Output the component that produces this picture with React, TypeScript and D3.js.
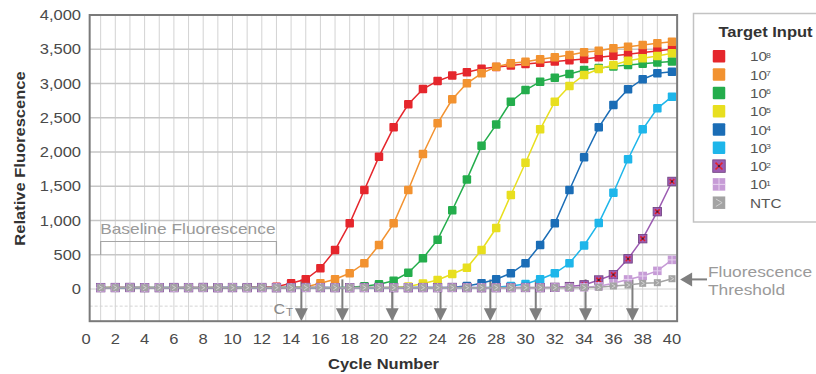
import React from 'react';
import * as d3 from 'd3';

// Amplification curves: relative fluorescence per PCR cycle for each target input
const cycles = d3.range(1, 41);

const input1e8 = [20, 22, 18, 21, 19, 20, 22, 19, 21, 20, 22, 25, 32, 83, 142, 302, 569, 959, 1445, 1932, 2360, 2697, 2920, 3037, 3115, 3163, 3215, 3240, 3262, 3283, 3302, 3320, 3338, 3358, 3382, 3405, 3428, 3452, 3476, 3504];
const input1e7 = [20, 21, 19, 22, 20, 18, 21, 20, 22, 19, 21, 20, 22, 24, 30, 83, 142, 229, 375, 642, 959, 1445, 1971, 2419, 2770, 3003, 3149, 3245, 3295, 3318, 3353, 3382, 3416, 3455, 3479, 3514, 3538, 3562, 3587, 3611];
const input1e6 = [21, 20, 22, 19, 21, 20, 18, 22, 20, 21, 19, 22, 20, 21, 19, 22, 20, 24, 40, 70, 121, 238, 448, 720, 1150, 1600, 2090, 2400, 2735, 2905, 3027, 3085, 3139, 3197, 3225, 3250, 3270, 3290, 3305, 3320];
const input1e5 = [19, 21, 20, 22, 18, 21, 20, 19, 22, 20, 21, 19, 20, 22, 21, 19, 20, 22, 21, 20, 24, 35, 80, 131, 219, 310, 569, 890, 1372, 1844, 2331, 2735, 2964, 3124, 3212, 3270, 3333, 3368, 3402, 3441];
const input1e4 = [20, 19, 21, 20, 22, 19, 21, 20, 18, 21, 22, 20, 19, 21, 20, 22, 19, 21, 20, 18, 21, 20, 22, 21, 24, 45, 83, 142, 229, 375, 642, 959, 1445, 1923, 2360, 2686, 2916, 3062, 3149, 3172];
const input1e3 = [21, 20, 19, 22, 20, 21, 19, 20, 22, 21, 20, 19, 21, 22, 20, 19, 21, 20, 22, 19, 20, 21, 22, 20, 19, 21, 20, 24, 45, 73, 142, 229, 375, 635, 963, 1406, 1895, 2331, 2638, 2808];
const input1e2 = [20, 21, 22, 19, 20, 21, 20, 22, 19, 21, 20, 21, 19, 20, 22, 21, 20, 19, 21, 22, 20, 19, 21, 20, 22, 21, 19, 20, 21, 22, 20, 24, 35, 60, 131, 209, 440, 735, 1129, 1570];
const input1e1 = [19, 20, 21, 20, 22, 19, 21, 20, 21, 22, 19, 20, 21, 20, 19, 22, 21, 20, 19, 21, 20, 22, 21, 19, 20, 21, 22, 20, 19, 21, 20, 22, 21, 25, 40, 85, 140, 190, 265, 425];
const inputNTC = [20, 20, 21, 19, 20, 21, 20, 19, 21, 20, 20, 21, 19, 20, 21, 20, 19, 20, 21, 20, 19, 21, 20, 20, 21, 19, 20, 21, 20, 19, 21, 20, 20, 21, 24, 44, 58, 83, 92, 150];

const seriesExponents = ['8', '7', '6', '5', '4', '3', '2', '1', ''];
const seriesNames = ['10', '10', '10', '10', '10', '10', '10', '10', 'NTC'];
const seriesColors = ['#e5262c', '#f29230', '#24ad4c', '#e8df1f', '#1b6db6', '#1eb6ea', '#9c5cb2', '#c69bd6', '#a3a3a3'];
const seriesValues = [input1e8, input1e7, input1e6, input1e5, input1e4, input1e3, input1e2, input1e1, inputNTC];

// Threshold-crossing cycles (Ct) for 10^8 .. 10^1
const ctValues = [14.7, 17.5, 20.9, 24.2, 27.6, 30.7, 34.1, 37.3];
const threshold = 140;

const yTicks = [0, 500, 1000, 1500, 2000, 2500, 3000, 3500, 4000];
const xTicks = d3.range(0, 41, 2);
const baselineRange = [1.0, 13.0];

const FONT = '"Liberation Sans", Arial, Helvetica, sans-serif';

type TProps = {
  x: number; y: number; anchor?: string; size?: number; weight?: string;
  fill?: string; sx?: number; rotate?: number; children: React.ReactNode;
};

function T({ x, y, anchor = 'start', size = 14, weight = 'normal', fill = '#555', sx = 1.18, rotate, children }: TProps) {
  const tr = `translate(${x},${y})${rotate ? ` rotate(${rotate})` : ''} scale(${sx},1)`;
  return (
    <text transform={tr} textAnchor={anchor as any} fontSize={size} fontWeight={weight} fill={fill} fontFamily={FONT}>
      {children}
    </text>
  );
}

function Marker({ cx, cy, idx, size }: { cx: number; cy: number; idx: number; size: number }) {
  const h = size / 2;
  const color = seriesColors[idx];
  if (idx === 6) {
    return (
      <g>
        <rect x={cx - h} y={cy - h} width={size} height={size} fill={color} stroke="#6d3f7e" strokeWidth={0.8} />
        <path d={`M${cx - h * 0.55},${cy - h * 0.55}L${cx + h * 0.55},${cy + h * 0.55}M${cx + h * 0.55},${cy - h * 0.55}L${cx - h * 0.55},${cy + h * 0.55}`} stroke="#e3202a" strokeWidth={1.6} />
        <rect x={cx - 1} y={cy - 1} width={2} height={2} fill="#3a1f3f" />
      </g>
    );
  }
  if (idx === 7) {
    return (
      <g>
        <rect x={cx - h} y={cy - h} width={size} height={size} fill={color} />
        <path d={`M${cx},${cy - h}V${cy + h}M${cx - h},${cy}H${cx + h}`} stroke="#e6d3ee" strokeWidth={1} />
      </g>
    );
  }
  if (idx === 8) {
    return (
      <g>
        <rect x={cx - h} y={cy - h} width={size} height={size} fill={color} />
        <path d={`M${cx - h * 0.5},${cy - h * 0.6}L${cx + h * 0.5},${cy}L${cx - h * 0.5},${cy + h * 0.6}`} stroke="#cfcfcf" strokeWidth={1} fill="none" />
      </g>
    );
  }
  return <rect x={cx - h} y={cy - h} width={size} height={size} rx={1} fill={color} />;
}

export default function App() {
  const x = d3.scaleLinear().domain([0, 40]).range([86, 672]);
  const y = d3.scaleLinear().domain([0, 4000]).range([289, 15]);

  const left = x(0.25);
  const right = x(40.35);
  const top = y(4000);
  const bottom = y(-470);

  const line = d3.line<number>().x((_, i) => x(cycles[i])).y((v) => y(v));

  const gridColor = '#c6c6c6';
  const arrowColor = '#7f7f7f';
  const annoColor = '#9a9a9a';

  const legendRowY = (i: number) => 56.3 + i * 18.3;

  return (
    <svg width={816} height={374} style={{ position: 'absolute', left: 0, top: 0, background: '#fff' }}>
      {/* grid */}
      {cycles.slice(0, 39).map((c) => (
        <line key={`v${c}`} x1={x(c)} x2={x(c)} y1={top} y2={bottom} stroke="#d3d3d3" strokeWidth={1} />
      ))}
      {yTicks.slice(1, 8).map((t) => (
        <line key={`h${t}`} x1={left} x2={right} y1={y(t)} y2={y(t)} stroke={gridColor} strokeWidth={1.4} />
      ))}
      <line x1={left} x2={right} y1={y(0)} y2={y(0)} stroke="#d0d0d0" strokeWidth={1} />
      <line x1={left} x2={right} y1={y(-250)} y2={y(-250)} stroke="#d4d4d4" strokeWidth={1} strokeDasharray="3,2" />

      {/* Ct arrows from the threshold down to the axis */}
      {ctValues.map((ct, i) => {
        const ax = x(ct);
        const y0 = y(threshold);
        return (
          <g key={`ct${i}`}>
            <line x1={ax} x2={ax} y1={y0} y2={bottom - 12} stroke={arrowColor} strokeWidth={2} />
            <path d={`M${ax - 6.5},${bottom - 13}L${ax + 6.5},${bottom - 13}L${ax},${bottom}Z`} fill={arrowColor} />
          </g>
        );
      })}

      {/* series */}
      {seriesValues.map((vals, si) => (
        <g key={`s${si}`}>
          <path d={line(vals) || ''} fill="none" stroke={seriesColors[si]} strokeWidth={1.5} />
          {vals.map((v, i) => (
            <Marker key={i} cx={x(cycles[i])} cy={y(v)} idx={si} size={si === 8 ? 7 : 8.5} />
          ))}
        </g>
      ))}

      {/* frame */}
      <rect x={left} y={top} width={right - left} height={bottom - top} fill="none" stroke="#7a7a7a" strokeWidth={2} />

      {/* y axis */}
      {yTicks.map((t) => (
        <T key={`yl${t}`} x={81} y={y(t) + 5} anchor="end" fill="#4a4a4a">{d3.format(',')(t)}</T>
      ))}
      <T x={24.5} y={158.5} rotate={-90} anchor="middle" weight="bold" fill="#333">Relative Fluorescence</T>

      {/* x axis */}
      {xTicks.map((t) => (
        <T key={`xl${t}`} x={x(t)} y={343.5} anchor="middle" fill="#4a4a4a">{t}</T>
      ))}
      <T x={383.5} y={369} anchor="middle" weight="bold" fill="#333">Cycle Number</T>

      {/* baseline annotation */}
      <T x={x(baselineRange[0]) - 0.5} y={234} fill={annoColor} sx={1.24}>Baseline Fluorescence</T>
      <path d={`M${x(baselineRange[0])},255V241.5H${x(baselineRange[1])}V255`} fill="none" stroke="#a5a5a5" strokeWidth={1.2} />

      {/* Ct label */}
      <T x={273.5} y={313.5} fill="#888" sx={1.15}>C</T>
      <T x={286} y={316} fill="#888" size={10} sx={1.15}>T</T>

      {/* threshold annotation */}
      <line x1={691} x2={707} y1={y(threshold)} y2={y(threshold)} stroke={arrowColor} strokeWidth={2} />
      <path d={`M${right + 3},${y(threshold)}L${right + 15},${y(threshold) - 7}L${right + 15},${y(threshold) + 7}Z`} fill={arrowColor} />
      <T x={708} y={276.5} fill={annoColor} sx={1.24}>Fluorescence</T>
      <T x={708} y={295} fill={annoColor} sx={1.24}>Threshold</T>

      {/* legend */}
      <rect x={693.5} y={13.5} width={140} height={208.5} fill="#fff" stroke="#c3c3c3" strokeWidth={1.5} />
      <T x={765.5} y={36.5} anchor="middle" weight="bold" fill="#333">Target Input</T>
      {seriesNames.map((name, i) => {
        const cy = legendRowY(i);
        return (
          <g key={`lg${i}`}>
            <Marker cx={719} cy={cy} idx={i} size={12.5} />
            <T x={750} y={cy + 5} size={13} fill="#555">{name}</T>
            {seriesExponents[i] && (
              <T x={766} y={cy + 1.5} size={8} fill="#555" sx={1.1}>{seriesExponents[i]}</T>
            )}
          </g>
        );
      })}
    </svg>
  );
}
